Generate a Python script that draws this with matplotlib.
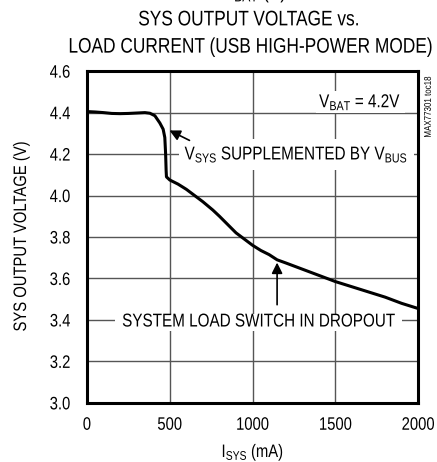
"""SYS output voltage vs load current (USB high-power mode) -> out.png"""
import matplotlib
matplotlib.use("Agg")
import matplotlib.pyplot as plt
from matplotlib.path import Path
from matplotlib.patheffects import AbstractPathEffect
from matplotlib.transforms import Affine2D

plt.rcParams["font.family"] = ["Liberation Sans", "DejaVu Sans"]
plt.rcParams["mathtext.fontset"] = "custom"
plt.rcParams["mathtext.rm"] = "Liberation Sans"
plt.rcParams["mathtext.it"] = "Liberation Sans"

SQUEEZE = 0.82  # no narrow face installed, so squeeze the glyphs instead

# load current (mA) and SYS voltage (V)
i_sys = [0, 50, 100, 150, 200, 250, 300, 350, 380, 410, 440, 460, 470, 475,
         478, 480, 500, 550, 600, 650, 700, 760, 800, 850, 900, 950, 1000,
         1050, 1100, 1148, 1200, 1300, 1400, 1500, 1600, 1700, 1800, 1900, 2000]
v_sys = [4.405, 4.403, 4.400, 4.396, 4.395, 4.396, 4.398, 4.400, 4.397, 4.385,
         4.35, 4.32, 4.28, 4.20, 4.12, 4.09, 4.075, 4.055, 4.03, 4.00, 3.97,
         3.93, 3.90, 3.86, 3.82, 3.79, 3.76, 3.735, 3.715, 3.69, 3.675, 3.645,
         3.615, 3.585, 3.56, 3.535, 3.51, 3.48, 3.455]

x_ticks = [0, 500, 1000, 1500, 2000]
y_ticks = [3.0, 3.2, 3.4, 3.6, 3.8, 4.0, 4.2, 4.4, 4.6]


class Narrow(AbstractPathEffect):
    """Scale text paths along one display axis around an anchor."""

    def __init__(self, anchor="center", vertical=False):
        super().__init__()
        self.anchor, self.vertical = anchor, vertical

    def draw_path(self, renderer, gc, tpath, affine, rgbFace=None):
        bb = tpath.get_extents(affine)
        if self.vertical:
            c = (bb.y0 + bb.y1) / 2
            t = Affine2D().translate(0, -c).scale(1, SQUEEZE).translate(0, c)
        else:
            c = {"left": bb.x0, "right": bb.x1}.get(self.anchor, (bb.x0 + bb.x1) / 2)
            t = Affine2D().translate(-c, 0).scale(SQUEEZE, 1).translate(c, 0)
        renderer.draw_path(gc, tpath, affine + t, rgbFace)


def narrow_box(padx, pady):
    """White mask box sized to the squeezed (centred) text."""
    def style(x0, y0, width, height, mutation_size):
        cx = x0 + width / 2
        w = width * SQUEEZE / 2 + padx * mutation_size
        p = pady * mutation_size
        return Path([(cx - w, y0 - p), (cx + w, y0 - p), (cx + w, y0 + height + p),
                     (cx - w, y0 + height + p), (cx - w, y0 - p)], closed=True)
    return dict(boxstyle=style, facecolor="white", edgecolor="none")


fig = plt.figure(figsize=(4.37, 4.62), dpi=100)
ax = fig.add_axes([0.199, 0.128, 0.758, 0.718])

ax.plot(i_sys, v_sys, color="black", lw=2.2, zorder=3)

ax.set_xlim(0, 2000)
ax.set_ylim(3.0, 4.6)
ax.set_xticks(x_ticks)
ax.set_yticks(y_ticks)
ax.set_yticklabels([f"{v:.1f}" for v in y_ticks])
ax.tick_params(length=0, labelsize=13)
ax.tick_params(axis="y", pad=12)
ax.tick_params(axis="x", pad=10)
for lbl in ax.get_xticklabels():
    lbl.set_path_effects([Narrow()])
for lbl in ax.get_yticklabels():
    lbl.set_path_effects([Narrow("right")])
ax.grid(True, color="#555555", lw=1.0, zorder=1)
for s in ax.spines.values():
    s.set_linewidth(2.2)
    s.set_zorder(6)

ylab = ax.set_ylabel("SYS OUTPUT VOLTAGE (V)", fontsize=13, labelpad=11)
ylab.set_path_effects([Narrow(vertical=True)])
xlab = ax.set_xlabel(r"I$_{\mathrm{SYS}}$ (mA)", fontsize=13, labelpad=6)
xlab.set_path_effects([Narrow()])

notes = [
    (1650, 4.45, r"V$_{\mathrm{BAT}}$ = 4.2V", 0.2, 0.05),
    (1265, 4.198, r"V$_{\mathrm{SYS}}$ SUPPLEMENTED BY V$_{\mathrm{BUS}}$", 0.3, 0.3),
    (1035, 3.39, "SYSTEM LOAD SWITCH IN DROPOUT", 0.4, 0.0),
]
for x, y, s, padx, pady in notes:
    t = ax.text(x, y, s, fontsize=13.4, ha="center", va="center",
                bbox=narrow_box(padx, pady), zorder=4)
    t.set_path_effects([Narrow()])

arrow = dict(arrowstyle="-|>", color="black", lw=1.2, mutation_scale=16)
ax.annotate("", xy=(483, 4.32), xytext=(634, 4.26), arrowprops=arrow, zorder=5)
ax.annotate("", xy=(1148, 3.69), xytext=(1148, 3.46), arrowprops=arrow, zorder=5)

heads = [
    (0.570, 0.957, "SYS OUTPUT VOLTAGE vs.", "center"),
    (0.574, 0.898, "LOAD CURRENT (USB HIGH-POWER MODE)", "center"),
    (0.583, 0.991, r"V$_{\mathrm{BAT}}$ (V)", "bottom"),
]
for x, y, s, va in heads:
    t = fig.text(x, y, s, fontsize=15.2, ha="center", va=va)
    t.set_path_effects([Narrow()])

code = fig.text(0.979, 0.768, "MAX77301 toc18", fontsize=7, rotation=90,
                ha="center", va="center")
code.set_path_effects([Narrow(vertical=True)])

fig.savefig("out.png", dpi=100)
